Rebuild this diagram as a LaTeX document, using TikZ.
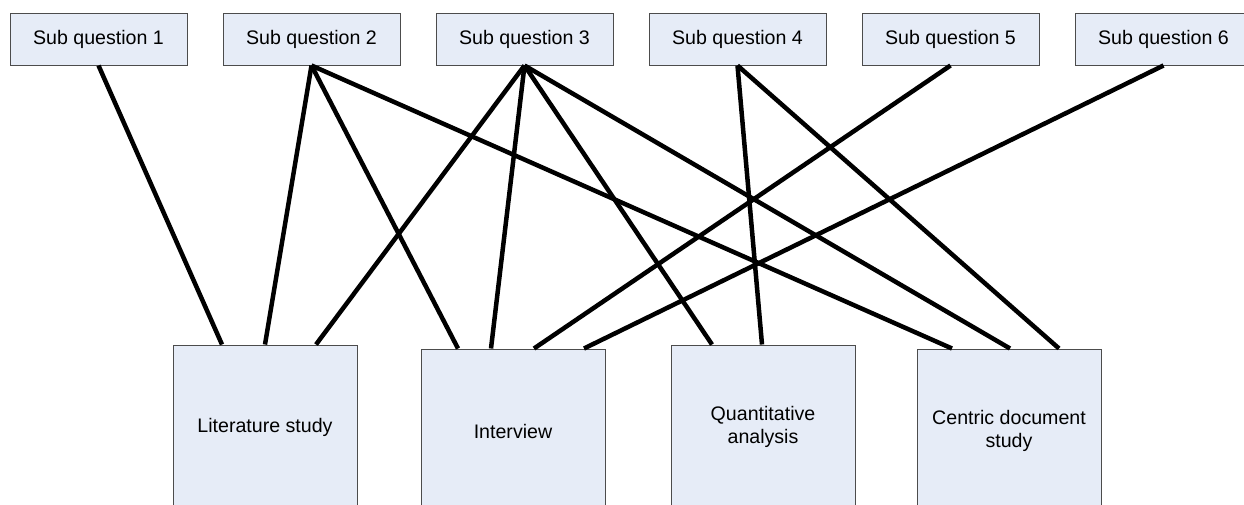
\documentclass[tikz,border=0pt]{standalone}
\usepackage{fontspec}
\setmainfont{Liberation Sans}
\usetikzlibrary{positioning}

\begin{document}
\begin{tikzpicture}[x=1pt,y=-1pt,font=\fontsize{19.6}{23.5}\selectfont,
 node distance=35pt,
 subq/.style={draw=black!70,line width=1pt,fill={rgb,255:red,230;green,236;blue,247},inner sep=0pt,minimum width=177pt,minimum height=52pt,align=center},
 method/.style={draw=black!70,line width=1pt,fill={rgb,255:red,230;green,236;blue,247},inner sep=0pt,minimum width=184pt,minimum height=164pt,align=center},
 link/.style={line width=4.5pt}]
\clip (0,0) rectangle (1244,504);
% sub questions
\node[subq] (sq1) at (98.5,39) {Sub question 1};
\node[subq,right=of sq1] (sq2) {Sub question 2};
\node[subq,right=of sq2] (sq3) {Sub question 3};
\node[subq,right=of sq3] (sq4) {Sub question 4};
\node[subq,right=of sq4] (sq5) {Sub question 5};
\node[subq,right=of sq5] (sq6) {Sub question 6};
% research methods
\node[method] (lit) at (265,427) {Literature study};
\node[method] (int) at (513,431) {Interview};
\node[method] (quant) at (763,427) {Quantitative\\analysis};
\node[method] (doc) at (1009,431) {Centric document\\study};
% links
\draw[link] (sq1.south) -- ([xshift=-43pt]lit.north);
\draw[link] (sq2.south) -- ([xshift=0pt]lit.north);
\draw[link] (sq2.south) -- ([xshift=-55pt]int.north);
\draw[link] (sq2.south) -- ([xshift=-57pt]doc.north);
\draw[link] (sq3.south) -- ([xshift=51pt]lit.north);
\draw[link] (sq3.south) -- ([xshift=-22pt]int.north);
\draw[link] (sq3.south) -- ([xshift=-51pt]quant.north);
\draw[link] (sq3.south) -- ([xshift=1pt]doc.north);
\draw[link] (sq4.south) -- ([xshift=-1pt]quant.north);
\draw[link] (sq4.south) -- ([xshift=50pt]doc.north);
\draw[link] (sq5.south) -- ([xshift=21pt]int.north);
\draw[link] (sq6.south) -- ([xshift=71pt]int.north);
\end{tikzpicture}
\end{document}
